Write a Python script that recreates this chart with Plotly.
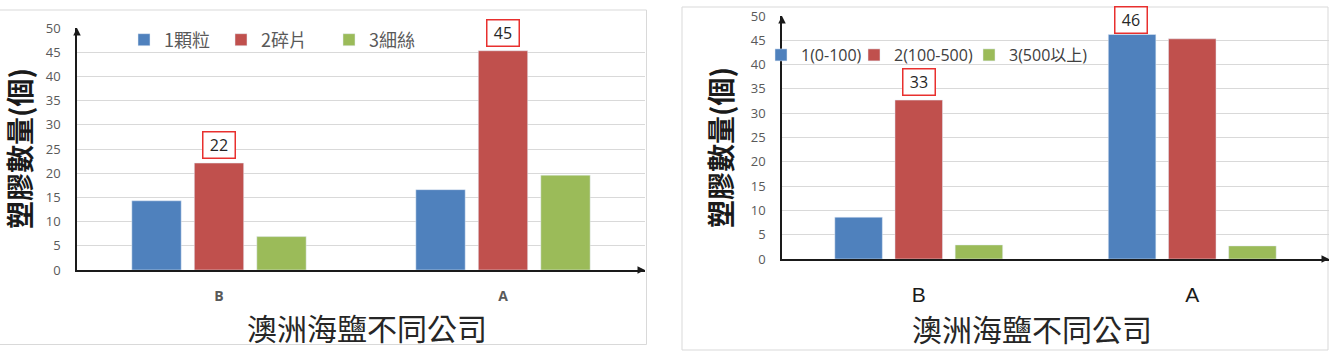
import plotly.graph_objects as go

# ---------------- data ----------------
categories = ["B", "A"]

left_names = ["1顆粒", "2碎片", "3細絲"]
left_particle = [14.3, 16.6]
left_fragment = [22.1, 45.3]
left_fiber = [6.9, 19.6]

right_names = ["1(0-100)", "2(100-500)", "3(500以上)"]
right_small = [8.6, 46.2]
right_mid = [32.7, 45.3]
right_large = [2.9, 2.7]

y_ticks = [0, 5, 10, 15, 20, 25, 30, 35, 40, 45, 50]
x_title = "澳洲海鹽不同公司"
y_title = "塑膠數量(個)"

colors = ["#4F81BD", "#C0504D", "#9BBB59"]

W, H = 1336, 351
CJK = "Noto Sans CJK TC"


def px(x):
    return x / W


def py(y):
    return 1 - y / H


fig = go.Figure()

left_series = [left_particle, left_fragment, left_fiber]
right_series = [right_small, right_mid, right_large]

legend_ids_left = ["legend", "legend2", "legend3"]
legend_ids_right = ["legend4", "legend5", "legend6"]

for i, (name, vals) in enumerate(zip(left_names, left_series)):
    fig.add_trace(go.Bar(x=categories, y=vals, name=name, marker_color=colors[i],
                         xaxis="x", yaxis="y", legend=legend_ids_left[i]))
for i, (name, vals) in enumerate(zip(right_names, right_series)):
    fig.add_trace(go.Bar(x=categories, y=vals, name=name, marker_color=colors[i],
                         xaxis="x2", yaxis="y2", legend=legend_ids_right[i]))

# legends (one per item so that spacing matches)
left_text_x = [163, 260, 368]
right_text_x = [800, 893, 1008]
legend_layout = {}
for lid, x in zip(legend_ids_left, left_text_x):
    legend_layout[lid] = dict(x=px(x - 39), y=py(40), xanchor="left", yanchor="middle",
                              orientation="h", bgcolor="rgba(0,0,0,0)",
                              font=dict(family=CJK, size=18, color="#595959"),
                              itemwidth=30, tracegroupgap=0)
for lid, x in zip(legend_ids_right, right_text_x):
    legend_layout[lid] = dict(x=px(x - 39), y=py(55), xanchor="left", yanchor="middle",
                              orientation="h", bgcolor="rgba(0,0,0,0)",
                              font=dict(family="Open Sans, " + CJK, size=16, color="#404040"),
                              itemwidth=30, tracegroupgap=0)

axis_common = dict(showgrid=False, showline=True, linecolor="#1a1a1a", linewidth=1.5,
                   ticks="", fixedrange=True, automargin=False)
yaxis_common = dict(range=[0, 50], tickvals=y_ticks, showgrid=True, gridcolor="#d9d9d9",
                    gridwidth=1, showline=True, linecolor="#1a1a1a", linewidth=1.5,
                    zeroline=False, ticks="", ticklabelstandoff=12, automargin=False,
                    tickfont=dict(family="Open Sans", size=13, color="#595959"))

fig.update_layout(
    width=W, height=H,
    margin=dict(l=0, r=0, t=0, b=0, autoexpand=False),
    paper_bgcolor="white", plot_bgcolor="white",
    barmode="group", bargap=0.34, bargroupgap=0.21,
    showlegend=True,
    xaxis=dict(domain=[px(77), px(645)], anchor="y",
               tickfont=dict(family="Open Sans", size=14, color="#595959", weight="bold"),
               ticklabelstandoff=12, **axis_common),
    yaxis=dict(domain=[py(270), py(28)], anchor="x", **yaxis_common),
    xaxis2=dict(domain=[px(782), px(1329)], anchor="y2",
                tickfont=dict(family="Liberation Sans", size=21, color="#1a1a1a"),
                ticklabelstandoff=16, **axis_common),
    yaxis2=dict(domain=[py(259), py(16)], anchor="x2", **yaxis_common),
    **legend_layout,
)

annotations = []
# value boxes
box_style = dict(showarrow=False, bordercolor="#E8302E", borderwidth=1.5, bgcolor="white",
                 font=dict(family="Open Sans", size=16, color="#262626"),
                 width=29, height=23, borderpad=1, yanchor="bottom")
annotations.append(dict(x=categories[0], y=left_fragment[0], xref="x", yref="y",
                        text=str(round(left_fragment[0])), yshift=4, **box_style))
annotations.append(dict(x=categories[1], y=left_fragment[1], xref="x", yref="y",
                        text=str(round(left_fragment[1])), yshift=4, **box_style))
annotations.append(dict(x=categories[0], y=right_mid[0], xref="x2", yref="y2",
                        text=str(round(right_mid[0])), yshift=4, **box_style))
annotations.append(dict(x=categories[1], y=right_small[1], xref="x2", yref="y2",
                        text=str(round(right_small[1])), yshift=0, xshift=-61, **box_style))

# axis titles
for cx, cy in [(367, 327), (1032, 328)]:
    annotations.append(dict(x=px(cx), y=py(cy), xref="paper", yref="paper", showarrow=False,
                            text=x_title, xanchor="center", yanchor="middle",
                            font=dict(family=CJK, size=30, color="#262626")))
for cx, cy in [(19, 149), (720, 148)]:
    annotations.append(dict(x=px(cx), y=py(cy), xref="paper", yref="paper", showarrow=False,
                            text=y_title, textangle=-90, xanchor="center", yanchor="middle",
                            font=dict(family=CJK, size=28, color="#1a1a1a", weight="bold")))

# arrow heads on axes
for xr, yr in [("x", "y"), ("x2", "y2")]:
    annotations.append(dict(x=0, y=1, xref=xr + " domain", yref=yr + " domain", text="",
                            showarrow=True, ax=0, ay=8, arrowhead=2, arrowsize=1,
                            arrowwidth=1.5, arrowcolor="#1a1a1a"))
    annotations.append(dict(x=1, y=0, xref=xr + " domain", yref=yr + " domain", text="",
                            showarrow=True, ax=-8, ay=0, arrowhead=2, arrowsize=1,
                            arrowwidth=1.5, arrowcolor="#1a1a1a"))

fig.update_layout(annotations=annotations)

# chart borders
fig.add_shape(type="rect", xref="paper", yref="paper", x0=px(-1), x1=px(646.5),
              y0=py(344.5), y1=py(10), line=dict(color="#d9d9d9", width=1), layer="below")
fig.add_shape(type="rect", xref="paper", yref="paper", x0=px(682), x1=px(1328),
              y0=py(350), y1=py(7), line=dict(color="#d9d9d9", width=1), layer="below")

fig.write_html("out.html")
